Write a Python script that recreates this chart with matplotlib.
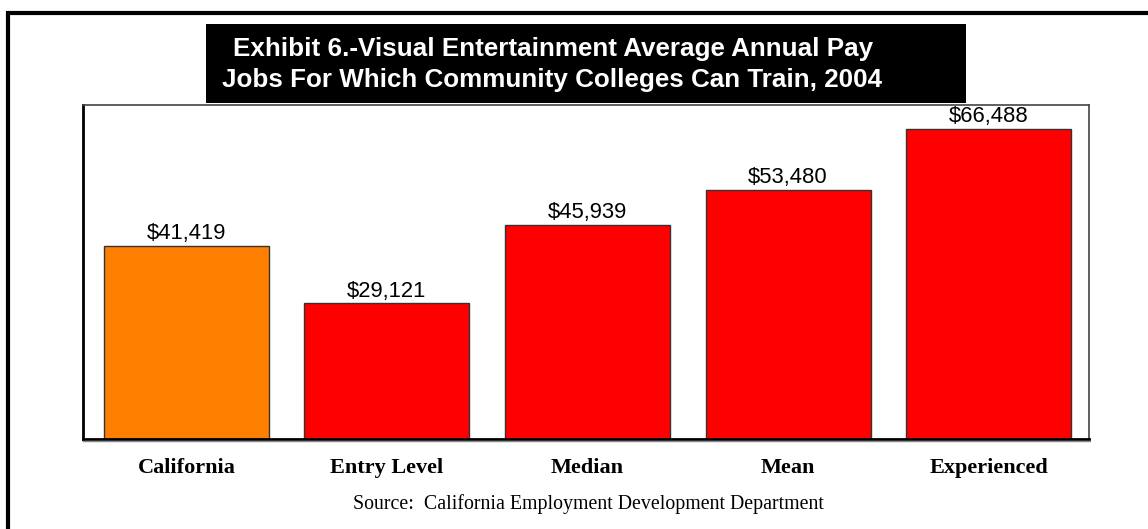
import matplotlib.pyplot as plt
from matplotlib.patches import Rectangle
from matplotlib.lines import Line2D

categories = ['California', 'Entry Level', 'Median', 'Mean', 'Experienced']
pay = [41419, 29121, 45939, 53480, 66488]
colors = ['#FF8000', '#FF0000', '#FF0000', '#FF0000', '#FF0000']

W, H = 1148, 529
fig = plt.figure(figsize=(W / 100, H / 100), dpi=100)

# outer frame (runs off the right and bottom edges)
fig.patches.append(Rectangle((8 / W, -0.05), 1.2, (H - 13) / H + 0.05,
                             transform=fig.transFigure, fill=False,
                             edgecolor='black', linewidth=3))

# plot area
ax = fig.add_axes([83 / W, (H - 439) / H, (1089 - 83) / W, (439 - 105) / H])
x = range(len(categories))
ax.bar(x, pay, width=0.823, color=colors, edgecolor='#333333', linewidth=1)
ax.set_xlim(-0.516, 4.501)
ax.set_ylim(0, 71600)
ax.set_xticks([])
ax.set_yticks([])
for side in ['top', 'right']:
    ax.spines[side].set_color('#444444')
    ax.spines[side].set_linewidth(1.2)
ax.spines['left'].set_linewidth(2)
ax.spines['bottom'].set_linewidth(2)

for i, v in enumerate(pay):
    ax.text(i, v + 350, f'${v:,}', ha='center', va='bottom',
            fontsize=15.8, family='Liberation Sans')

# shadow under the baseline
fig.lines.append(Line2D([83 / W, 1090 / W], [(H - 441) / H] * 2,
                        transform=fig.transFigure, color='#888888', linewidth=1))

# category names under the bars
for i, c in enumerate(categories):
    xpix = ax.transData.transform((i, 0))[0]
    fig.text(xpix / W, (H - 468) / H, c,
             ha='center', va='center', fontsize=16, fontweight='bold',
             family='Liberation Serif')

fig.text(588 / W, (H - 504) / H,
         'Source:  California Employment Development Department',
         ha='center', va='center', fontsize=14.3, family='Liberation Serif')

# title box
fig.patches.append(Rectangle((206 / W, (H - 103) / H), (966 - 206) / W, 79 / H,
                             transform=fig.transFigure, facecolor='black',
                             edgecolor='none'))
fig.text(553 / W, (H - 56) / H,
         'Exhibit 6.-Visual Entertainment Average Annual Pay',
         ha='center', va='baseline', color='white', fontsize=18.7,
         fontweight='bold', family='Liberation Sans')
fig.text(552 / W, (H - 87) / H,
         'Jobs For Which Community Colleges Can Train, 2004',
         ha='center', va='baseline', color='white', fontsize=18.7,
         fontweight='bold', family='Liberation Sans')

fig.savefig('out.png', dpi=100)
